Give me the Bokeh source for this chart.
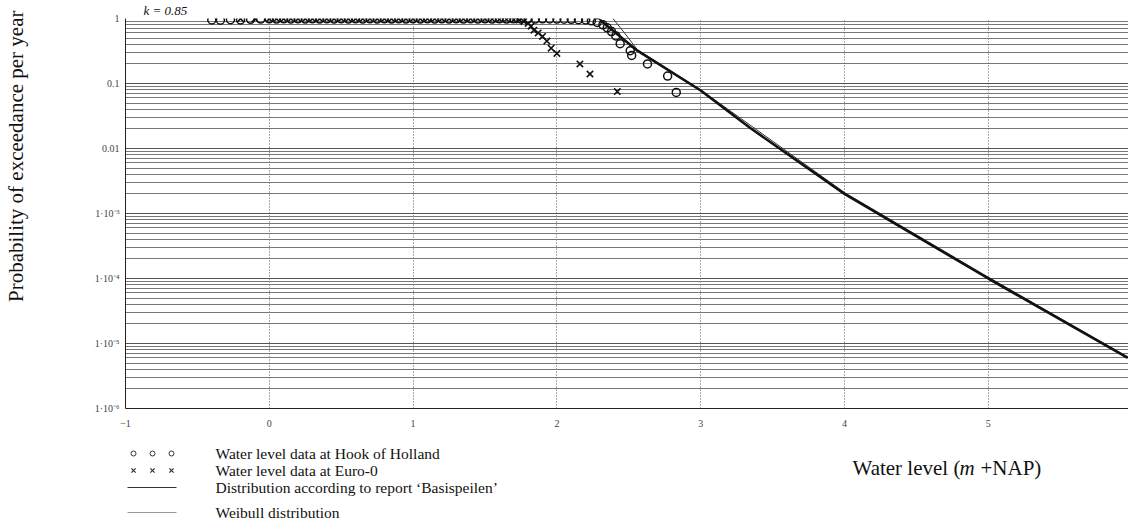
from bokeh.plotting import figure
from bokeh.models import Range1d, FixedTicker, CustomJSTickFormatter, Title
from bokeh.layouts import column
from bokeh.embed import file_html
from bokeh.resources import INLINE
from bokeh.core.properties import value

# ---------------- data ----------------
hook_x = [-0.40, -0.34, -0.27, -0.20, -0.13, -0.06, 0.00, 0.05, 0.10, 0.15, 0.20, 0.25,
          0.30, 0.35, 0.40, 0.45, 0.50, 0.55, 0.60, 0.65, 0.70, 0.75, 0.80, 0.85, 0.90,
          0.95, 1.00, 1.05, 1.10, 1.15, 1.20, 1.25, 1.30, 1.35, 1.40, 1.45, 1.50, 1.55,
          1.60, 1.65, 1.70, 1.75, 1.80, 1.85, 1.90, 1.95, 2.00, 2.05, 2.10, 2.15, 2.20,
          2.24, 2.28, 2.32, 2.35, 2.38, 2.41, 2.44, 2.51, 2.52, 2.63, 2.77, 2.83]
hook_y = [0.95, 0.94, 0.96, 0.95, 0.97, 0.98, 0.99, 0.98, 0.99, 0.98, 0.99, 0.98,
          0.99, 0.98, 0.99, 0.98, 0.99, 0.98, 0.99, 0.98, 0.99, 0.98, 0.99, 0.98, 0.99,
          0.98, 0.99, 0.98, 0.99, 0.98, 0.99, 0.98, 0.99, 0.98, 0.99, 0.98, 0.99, 0.98,
          0.99, 0.98, 0.99, 0.98, 0.99, 0.98, 0.99, 0.985, 0.98, 0.975, 0.97, 0.96, 0.95,
          0.92, 0.87, 0.80, 0.72, 0.63, 0.54, 0.41, 0.32, 0.27, 0.20, 0.13, 0.073]

euro_x = [-0.20, -0.10, 0.00, 0.05, 0.10, 0.15, 0.20, 0.25, 0.30, 0.35, 0.40, 0.45,
          0.50, 0.55, 0.60, 0.65, 0.70, 0.75, 0.80, 0.85, 0.90, 0.95, 1.00, 1.05, 1.10,
          1.15, 1.20, 1.25, 1.30, 1.35, 1.40, 1.45, 1.50, 1.55, 1.60, 1.65, 1.70, 1.74,
          1.77, 1.80, 1.82, 1.84, 1.87, 1.90, 1.93, 1.96, 2.00, 2.16, 2.23, 2.42]
euro_y = [0.99, 0.99, 0.99, 0.99, 0.99, 0.99, 0.99, 0.99, 0.99, 0.99, 0.99, 0.99,
          0.99, 0.99, 0.99, 0.99, 0.99, 0.99, 0.99, 0.99, 0.99, 0.99, 0.99, 0.99, 0.99,
          0.99, 0.99, 0.99, 0.99, 0.99, 0.99, 0.99, 0.985, 0.98, 0.975, 0.97, 0.96, 0.95,
          0.90, 0.84, 0.76, 0.66, 0.60, 0.53, 0.45, 0.35, 0.29, 0.20, 0.14, 0.075]

basis_x = [2.30, 2.56, 3.00, 3.34, 4.00, 5.00, 5.97]
basis_y = [0.95, 0.32, 0.078, 0.021, 2.0e-3, 1.0e-4, 6.0e-6]

weib_x = [2.39, 2.47, 2.56, 3.00, 4.00, 5.00, 5.97]
weib_y = [1.0, 0.60, 0.33, 0.080, 2.1e-3, 1.05e-4, 6.2e-6]

x_tick_values = [-1, 0, 1, 2, 3, 4, 5]
x_tick_labels = ["\u22121", "0", "1", "2", "3", "4", "5"]
y_tick_values = [1e-6, 1e-5, 1e-4, 1e-3, 1e-2, 1e-1, 1]
y_tick_labels = ["1\u00b710\u207b\u2076", "1\u00b710\u207b\u2075", "1\u00b710\u207b\u2074",
                 "1\u00b710\u207b\u00b3", "0.01", "0.1", "1"]

legend_labels = ["Water level data at Hook of Holland",
                 "Water level data at Euro-0",
                 "Distribution according to report \u2018Basispeilen\u2019",
                 "Weibull distribution"]
y_axis_title = "Probability of exceedance per year"
top_title = "k = 0.85"
x_axis_title = ["Water level (", "m", "+NAP)"]

SERIF = "Liberation Serif"

# ---------------- main chart ----------------
p = figure(width=1128, height=438, x_range=Range1d(-1, 5.975), y_range=Range1d(1e-6, 1),
           y_axis_type="log", output_backend="svg", toolbar_location=None,
           min_border_left=125, min_border_right=0, min_border_top=18, min_border_bottom=30)
p.outline_line_color = None
p.background_fill_color = "white"
p.border_fill_color = "white"

minor = [m * 10.0 ** e for e in range(-6, 0) for m in range(2, 10)]
p.yaxis.ticker = FixedTicker(ticks=y_tick_values, minor_ticks=minor)
p.xaxis.ticker = FixedTicker(ticks=x_tick_values)

fmt_code = """
let best = 0, bd = 1e9;
for (let i = 0; i < vals.length; i++) {
  const d = LOG ? Math.abs(Math.log10(tick) - Math.log10(vals[i])) : Math.abs(tick - vals[i]);
  if (d < bd) { bd = d; best = i; }
}
return bd < 1e-6 ? labs[best] : "";
"""
p.yaxis.formatter = CustomJSTickFormatter(args=dict(vals=y_tick_values, labs=y_tick_labels, LOG=True), code=fmt_code)
p.xaxis.formatter = CustomJSTickFormatter(args=dict(vals=x_tick_values, labs=x_tick_labels, LOG=False), code=fmt_code)

for ax in (p.xaxis[0], p.yaxis[0]):
    ax.axis_line_color = "#222222"
    ax.axis_line_width = 1
    ax.major_tick_in = 0
    ax.major_tick_out = 0
    ax.minor_tick_in = 0
    ax.minor_tick_out = 0
    ax.major_label_text_font = SERIF
    ax.major_label_text_font_size = "10px"
    ax.major_label_text_color = "#444444"
p.xaxis.major_label_standoff = 11
p.yaxis.major_label_standoff = 6
# blank axis label: only reserves room so that the title sits at the far left
p.yaxis.axis_label = " "
p.yaxis.axis_label_text_font_size = "10px"
p.yaxis.axis_label_standoff = 50

p.xgrid.grid_line_color = "#555555"
p.xgrid.grid_line_dash = "1 2"
p.xgrid.grid_line_width = 1
p.ygrid.grid_line_color = "#555555"
p.ygrid.grid_line_width = 1
p.ygrid.minor_grid_line_color = "#777777"
p.ygrid.minor_grid_line_width = 1

p.line(weib_x, weib_y, line_width=1, line_color="#333333")
p.line(basis_x, basis_y, line_width=2.6, line_color="#111111")
p.scatter(hook_x, hook_y, marker="circle", size=8, fill_color=None,
          line_color="#111111", line_width=1.5)
p.scatter(euro_x, euro_y, marker="x", size=9, line_color="#111111", line_width=1.6)

p.add_layout(Title(text=top_title, align="left", offset=18, standoff=1,
                   text_font=SERIF, text_font_style="italic", text_font_size="13px",
                   text_color="#111111"), "above")
p.add_layout(Title(text=y_axis_title, align="right", offset=-8, standoff=0,
                   text_font=SERIF, text_font_style="normal", text_font_size="21px",
                   text_color="#111111"), "left")

# ---------------- legend / x label strip (coordinates = page pixels) ----------------
q = figure(width=1128, height=86, x_range=Range1d(125, 1128), y_range=Range1d(524, 438),
           output_backend="svg", toolbar_location=None,
           min_border_left=0, min_border_right=0, min_border_top=0, min_border_bottom=0)
q.axis.visible = False
q.grid.visible = False
q.outline_line_color = None

rows = [453, 470, 487, 512]
q.scatter([133, 152, 171], [rows[0]] * 3, marker="circle", size=5, fill_color=None,
          line_color="#333333", line_width=1)
q.scatter([133, 152, 171], [rows[1]] * 3, marker="x", size=6, line_color="#333333", line_width=1.2)
q.line([127, 176], [rows[2], rows[2]], line_color="#333333", line_width=1)
q.line([127, 176], [rows[3], rows[3]], line_color="#999999", line_width=1)
q.text([215] * 4, rows, text=legend_labels, text_font=value(SERIF), text_font_size="15.5px",
       text_baseline="middle", text_color="#111111")

q.text([852], [467], text=[x_axis_title[0]], text_font=value(SERIF), text_font_size="21px",
       text_baseline="middle", text_color="#111111")
q.text([959], [467], text=[x_axis_title[1]], text_font=value(SERIF), text_font_style="italic",
       text_font_size="21px", text_baseline="middle", text_color="#111111")
q.text([980], [467], text=[x_axis_title[2]], text_font=value(SERIF), text_font_size="21px",
       text_baseline="middle", text_color="#111111")

layout = column(p, q, spacing=0)
open("out.html", "w").write(file_html(layout, INLINE))
